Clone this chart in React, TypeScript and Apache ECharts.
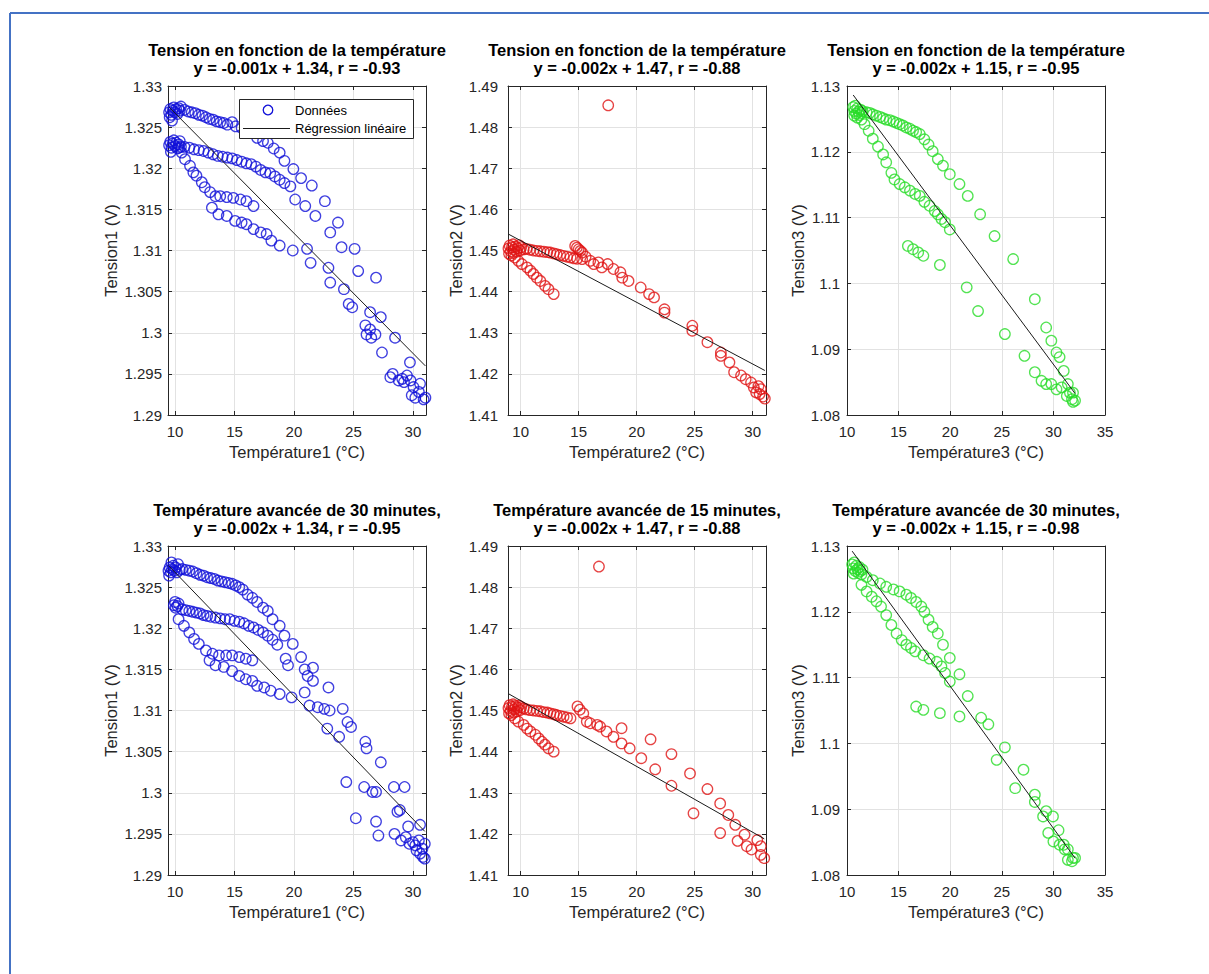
import React, { useEffect, useRef } from "react";
import * as echarts from "echarts";

type Pt = [number, number];

const FONT = '"Liberation Sans", Arial, Helvetica, sans-serif';

// ---------- Données (Température, Tension) ----------
const mesures1: Pt[] = [
  [9.5,1.3268],[9.6,1.3272],[9.7,1.3265],[9.8,1.3270],[9.9,1.3274],[10.0,1.3268],[10.1,1.3272],[10.2,1.3266],[10.3,1.3273],[10.4,1.3270],[10.5,1.3275],[9.55,1.3262],[9.75,1.3258],
  [10.8,1.3271],[11.1,1.3269],[11.4,1.3268],[11.7,1.3267],[12.0,1.3265],[12.3,1.3264],[12.6,1.3262],[12.9,1.3260],[13.2,1.3259],[13.5,1.3257],[13.8,1.3256],[14.1,1.3255],[14.4,1.3253],[14.8,1.3256],[15.1,1.3251],
  [15.6,1.3249],[16.1,1.3247],[16.6,1.3243],[16.9,1.3237],[17.4,1.3233],[17.8,1.3231],[18.3,1.3224],[18.8,1.3219],[19.2,1.3209],[19.95,1.3199],[20.6,1.3188],[21.5,1.3179],[22.6,1.3160],[23.7,1.3134],[25.1,1.3102],[25.4,1.3075],[26.9,1.3067],[28.5,1.2994],[29.75,1.2964],
  [9.5,1.3228],[9.6,1.3232],[9.7,1.3225],[9.8,1.3230],[9.9,1.3234],[10.0,1.3227],[10.1,1.3231],[10.2,1.3224],[10.3,1.3229],[10.4,1.3233],[10.5,1.3226],[9.65,1.3220],
  [10.8,1.3226],[11.2,1.3225],[11.6,1.3223],[12.0,1.3222],[12.4,1.3221],[12.8,1.3219],[13.2,1.3217],[13.6,1.3215],[14.0,1.3214],[14.4,1.3213],[14.8,1.3212],[15.2,1.3210],[15.6,1.3208],[16.0,1.3206],[16.4,1.3205],[16.8,1.3202],[17.2,1.3198],[17.6,1.3195],[18.0,1.3194],[18.4,1.3190],[18.8,1.3186],[19.2,1.3182],[19.7,1.3178],[20.1,1.3162],[20.95,1.3154],[21.8,1.3142],[23.05,1.3122],[24.0,1.3104],
  [10.3,1.3225],[10.56,1.3219],[10.84,1.3211],[11.26,1.3203],[11.54,1.3195],[11.8,1.3191],[12.25,1.3183],[12.5,1.3177],[12.95,1.3171],[13.4,1.3166],[13.8,1.3166],[14.35,1.3165],[14.9,1.3164],[15.5,1.3162],[16.0,1.3160],[16.6,1.3154],
  [13.1,1.3152],[13.65,1.3144],[14.35,1.3142],[15.05,1.3136],[15.6,1.3134],[16.0,1.3132],[16.6,1.3126],[17.2,1.3122],[17.7,1.3120],[18.1,1.3112],[18.8,1.3106],[19.9,1.3100],[21.1,1.3102],[21.4,1.3085],[22.9,1.3079],[23.05,1.3061],[24.2,1.3053],[24.6,1.3035],[24.9,1.3031],[26.4,1.3025],[27.3,1.3019],[26.0,1.3009],[26.4,1.3004],[26.1,1.2998],[26.5,1.2994],[26.85,1.2998],[27.4,1.2976],[28.3,1.2950],[28.1,1.2946],[28.8,1.2942],[29.1,1.2944],[29.25,1.2940],[29.8,1.2942],[29.5,1.2948],[30.05,1.2934],[29.9,1.2924],[30.2,1.2921],[30.5,1.2928],[30.6,1.2938],[30.9,1.2919],[31.05,1.2921],
];

const mesures2: Pt[] = [
  [8.95,1.4505],[9.05,1.4512],[9.15,1.4498],[9.25,1.4508],[9.35,1.4515],[9.45,1.4502],[9.55,1.4510],[9.65,1.4497],[9.75,1.4506],[9.85,1.4513],[9.95,1.4500],[9.0,1.4492],[9.2,1.4488],[9.4,1.4494],[10.05,1.4508],
  [10.26,1.4503],[10.5,1.4504],[10.8,1.4502],[11.1,1.4500],[11.4,1.4499],[11.7,1.4498],[12.0,1.4497],[12.3,1.4496],[12.56,1.4495],[12.85,1.4493],[13.1,1.4491],[13.4,1.4489],[13.7,1.4487],[14.0,1.4485],[14.3,1.4483],[14.6,1.4481],[14.87,1.4480],[15.3,1.4479],
  [14.7,1.4511],[14.85,1.4507],[15.0,1.4503],[15.15,1.4499],[15.3,1.4495],[15.6,1.4485],[16.0,1.4475],[16.3,1.4467],[16.7,1.4471],[17.0,1.4459],[17.5,1.4467],[18.0,1.4455],[18.6,1.4447],[18.76,1.4434],[19.3,1.4426],[20.35,1.4410],[21.07,1.4394],[21.5,1.4386],[22.4,1.4357],[22.4,1.4349],[24.8,1.4317],[24.8,1.4305],[26.1,1.4277],[27.26,1.4252],[27.26,1.4244],[28.0,1.4228],[28.4,1.4204],[29.0,1.4196],[29.4,1.4187],[29.86,1.4179],[30.1,1.4167],[30.3,1.4155],[30.6,1.4151],[30.7,1.4163],[30.9,1.4145],[31.05,1.4140],[30.5,1.4170],
  [9.5,1.4483],[9.8,1.4475],[10.1,1.4467],[10.55,1.4459],[10.84,1.4451],[11.1,1.4443],[11.4,1.4434],[11.7,1.4426],[12.1,1.4414],[12.4,1.4406],[12.85,1.4394],
  [17.55,1.4853],
];

const mesures3: Pt[] = [
  [10.6,1.1268],[10.7,1.1262],[10.8,1.1270],[10.9,1.1258],[11.0,1.1266],[11.1,1.1261],[11.2,1.1256],[11.3,1.1264],[11.4,1.1259],[10.7,1.1255],[11.0,1.1252],[11.5,1.1262],
  [11.9,1.1260],[12.2,1.1259],[12.5,1.1257],[12.85,1.1255],[13.2,1.1253],[13.5,1.1251],[13.8,1.1249],[14.15,1.1248],[14.5,1.1246],[14.8,1.1244],[15.1,1.1242],[15.4,1.1240],[15.75,1.1237],[16.1,1.1235],[16.4,1.1232],[16.7,1.1230],[17.05,1.1227],[17.5,1.1219],[17.9,1.1211],[18.3,1.1201],[18.8,1.1189],[19.3,1.1179],[19.96,1.1166],[20.9,1.1151],[21.7,1.1133],[22.9,1.1105],[24.3,1.1072],[26.1,1.1037],[28.2,1.0976],[29.3,1.0933],[29.8,1.0913],[30.3,1.0895],[30.6,1.0888],[31.0,1.0867],[31.4,1.0847],[31.9,1.0834],
  [11.4,1.1249],[11.7,1.1242],[12.1,1.1232],[12.5,1.1220],[13.0,1.1208],[13.5,1.1196],[13.8,1.1184],[14.3,1.1168],[14.6,1.1158],[15.1,1.1151],[15.6,1.1146],[16.1,1.1141],[16.6,1.1136],[17.05,1.1133],[17.5,1.1124],[18.0,1.1118],[18.5,1.1110],[18.8,1.1105],[19.15,1.1098],[19.5,1.1093],[19.96,1.1082],
  [15.9,1.1057],[16.4,1.1052],[16.9,1.1047],[17.4,1.1042],[19.0,1.1028],
  [21.6,1.0994],[22.7,1.0958],[25.3,1.0923],[27.2,1.0890],[28.2,1.0865],[28.85,1.0852],[29.3,1.0847],[29.8,1.0847],[30.3,1.0839],[31.3,1.0829],[31.8,1.0824],[32.1,1.0822],[31.6,1.0834],[30.8,1.0842],[31.9,1.0820],
];

const mesures4: Pt[] = [
  [9.45,1.3270],[9.55,1.3274],[9.65,1.3268],[9.75,1.3272],[9.85,1.3276],[9.95,1.3270],[10.05,1.3274],[10.15,1.3268],[10.25,1.3278],[10.4,1.3271],[9.5,1.3264],[9.7,1.3280],
  [10.6,1.3272],[10.9,1.3271],[11.2,1.3270],[11.5,1.3269],[11.8,1.3267],[12.1,1.3265],[12.4,1.3264],[12.7,1.3262],[13.0,1.3261],[13.3,1.3260],[13.6,1.3258],[13.9,1.3257],[14.2,1.3256],[14.5,1.3255],[14.8,1.3254],[15.1,1.3252],[15.4,1.3250],[15.7,1.3247],[16.1,1.3241],[16.5,1.3237],[16.9,1.3232],[17.4,1.3225],[17.8,1.3221],[18.2,1.3211],[18.8,1.3203],[19.2,1.3191],[19.9,1.3181],[20.6,1.3165],[21.15,1.3142],[21.6,1.3136],[22.9,1.3128],[24.1,1.3102],[24.5,1.3086],[24.8,1.3080],[26.0,1.3062],[26.1,1.3054],[27.3,1.3037],[28.4,1.3007],[29.3,1.3007],[28.7,1.2977],[29.6,1.2959],
  [10.05,1.3225],[10.3,1.3230],[10.0,1.3232],[10.2,1.3227],[9.9,1.3228],[10.6,1.3223],[10.9,1.3222],[11.2,1.3221],[11.5,1.3220],[11.8,1.3219],[12.1,1.3218],[12.4,1.3216],[12.7,1.3215],[13.0,1.3214],[13.4,1.3213],[13.8,1.3212],[14.2,1.3211],[14.6,1.3211],[15.0,1.3209],[15.4,1.3208],[15.8,1.3206],[16.2,1.3203],[16.6,1.3201],[17.0,1.3198],[17.4,1.3195],[17.8,1.3191],[18.2,1.3186],[18.6,1.3180],[19.3,1.3163],[19.5,1.3155],[20.9,1.3150],[21.6,1.3152],[20.9,1.3122],[21.3,1.3106],[22.0,1.3104],[22.55,1.3102],[23.0,1.3100],[22.8,1.3078],[23.8,1.3068],
  [10.3,1.3211],[10.75,1.3203],[11.2,1.3195],[11.6,1.3187],[12.0,1.3181],[12.6,1.3173],[13.15,1.3169],[13.7,1.3167],[14.3,1.3167],[14.8,1.3167],[15.4,1.3165],[15.95,1.3163],[16.5,1.3161],
  [12.9,1.3161],[13.4,1.3155],[14.1,1.3153],[14.8,1.3148],[15.4,1.3142],[15.95,1.3138],[16.5,1.3136],[16.9,1.3130],[17.5,1.3128],[18.05,1.3124],[18.8,1.3120],[19.8,1.3116],
  [24.4,1.3013],[25.2,1.2969],[25.9,1.3007],[26.6,1.3001],[26.9,1.3001],[26.9,1.2965],[27.1,1.2948],[28.45,1.2950],[29.0,1.2942],[29.4,1.2946],[29.7,1.2938],[30.3,1.2930],[30.6,1.2926],[30.85,1.2922],[31.0,1.2920],[28.9,1.2979],[30.6,1.2961],[31.0,1.2938],[30.0,1.2940],[30.2,1.2936],[30.5,1.2942],[30.8,1.2932],
];

const mesures5: Pt[] = [
  [8.95,1.4506],[9.05,1.4513],[9.15,1.4499],[9.25,1.4509],[9.35,1.4515],[9.45,1.4503],[9.55,1.4511],[9.65,1.4498],[9.75,1.4507],[9.85,1.4512],[9.95,1.4501],[9.0,1.4493],[9.2,1.4489],[9.4,1.4495],[10.05,1.4508],
  [10.26,1.4505],[10.5,1.4503],[10.8,1.4501],[11.1,1.4500],[11.4,1.4499],[11.7,1.4498],[12.0,1.4496],[12.3,1.4495],[12.56,1.4493],[12.85,1.4491],[13.1,1.4489],[13.4,1.4487],[13.7,1.4485],[14.0,1.4483],[14.3,1.4481],
  [14.9,1.4510],[15.1,1.4502],[15.4,1.4493],[15.7,1.4473],[16.0,1.4469],[16.6,1.4465],[16.85,1.4461],[17.4,1.4449],[18.0,1.4436],[18.7,1.4457],[18.7,1.4420],[19.4,1.4408],[20.4,1.4384],[21.2,1.4430],[21.6,1.4357],[23.0,1.4394],[23.0,1.4317],[24.6,1.4347],[24.9,1.4250],[26.1,1.4309],[27.2,1.4274],[27.2,1.4202],[27.9,1.4246],[28.5,1.4222],[28.7,1.4183],[29.3,1.4198],[29.5,1.4170],[29.9,1.4162],[30.4,1.4185],[30.7,1.4170],[30.7,1.4149],[31.0,1.4141],
  [9.5,1.4481],[9.8,1.4473],[10.26,1.4465],[10.55,1.4456],[10.84,1.4449],[11.27,1.4441],[11.56,1.4432],[11.84,1.4424],[12.1,1.4417],[12.4,1.4408],[12.85,1.4400],
  [16.75,1.4850],
];

const mesures6: Pt[] = [
  [10.5,1.1272],[10.6,1.1266],[10.7,1.1275],[10.8,1.1262],[10.9,1.1270],[11.0,1.1265],[11.1,1.1259],[11.2,1.1268],[11.3,1.1262],[11.4,1.1257],[10.65,1.1258],[11.5,1.1264],
  [11.9,1.1253],[12.5,1.1248],[13.2,1.1243],[13.8,1.1238],[14.5,1.1234],[15.1,1.1231],[15.75,1.1226],[16.2,1.1221],[16.7,1.1215],[17.2,1.1208],[17.5,1.1200],[17.9,1.1188],[18.3,1.1177],[18.8,1.1167],[19.3,1.1150],[19.96,1.1130],[20.9,1.1105],[21.7,1.1072],[23.0,1.1039],[23.7,1.1029],[25.3,1.0994],[27.1,1.0960],[28.2,1.0922],[29.3,1.0897],[29.96,1.0889],[30.5,1.0868],[31.0,1.0846],[31.4,1.0839],[31.9,1.0826],
  [11.4,1.1241],[11.9,1.1231],[12.4,1.1223],[12.85,1.1216],[13.3,1.1208],[13.8,1.1195],[14.3,1.1180],[14.8,1.1167],[15.3,1.1157],[15.75,1.1150],[16.2,1.1145],[16.6,1.1140],[17.4,1.1134],[18.0,1.1129],[18.7,1.1124],[19.15,1.1117],[19.5,1.1107],[19.96,1.1094],
  [16.7,1.1056],[17.4,1.1051],[19.0,1.1046],
  [20.9,1.1041],[24.5,1.0975],[26.3,1.0932],[28.2,1.0911],[29.0,1.0889],[29.5,1.0864],[30.0,1.0851],[30.6,1.0846],[31.1,1.0839],[31.4,1.0823],[31.8,1.0821],[32.1,1.0826],
];

// ---------- Régressions linéaires (pente, ordonnée à l'origine) ----------
const pentes = [-0.00146, -0.0015, -0.00211, -0.0015, -0.0016, -0.00216];
const ordonnees = [1.3413, 1.4674, 1.151, 1.3418, 1.4684, 1.1519];

// ---------- Textes ----------
const titresLigne1 = [
  "Tension en fonction de la température",
  "Tension en fonction de la température",
  "Tension en fonction de la température",
  "Température avancée de 30 minutes,",
  "Température avancée de 15 minutes,",
  "Température avancée de 30 minutes,",
];
const titresLigne2 = [
  "y = -0.001x + 1.34, r = -0.93",
  "y = -0.002x + 1.47, r = -0.88",
  "y = -0.002x + 1.15, r = -0.95",
  "y = -0.002x + 1.34, r = -0.95",
  "y = -0.002x + 1.47, r = -0.88",
  "y = -0.002x + 1.15, r = -0.98",
];
const nomsX = ["Température1 (°C)", "Température2 (°C)", "Température3 (°C)"];
const nomsY = ["Tension1 (V)", "Tension2 (V)", "Tension3 (V)"];

// ---------- Axes ----------
const xMins = [9.41, 8.91, 10];
const xMaxs = [31.1, 31.15, 35];
const yMins = [1.29, 1.41, 1.08];
const yMaxs = [1.33, 1.49, 1.13];
const yPas = [0.005, 0.01, 0.01];
const legendeNoms = ["Données", "Régression linéaire"];

const COULEURS = ["#1010d8", "#e01414", "#28dc28"];
const AXE = "#262626";
const GRILLE = "#e2e2e2";

const colGauche = [168, 508, 847];
const ligneHaut = [86, 546];
const W = 258;
const H = 329;
const yNameGap = [49, 42, 41];
const yLabelMargin = [6, 10, 7];

function fmt(v: number) {
  return String(parseFloat(v.toFixed(4)));
}

function buildOption() {
  const donnees = [mesures1, mesures2, mesures3, mesures4, mesures5, mesures6];
  const grid: any[] = [];
  const xAxis: any[] = [];
  const yAxis: any[] = [];
  const series: any[] = [];
  const graphic: any[] = [];

  donnees.forEach((pts, i) => {
    const col = i % 3;
    const row = Math.floor(i / 3);
    const left = colGauche[col];
    const top = ligneHaut[row];
    grid.push({ left, top, width: W, height: H });

    const xmin = xMins[col];
    const xmax = xMaxs[col];
    const showMin = Math.abs(xmin % 5) < 1e-9;
    const showMax = Math.abs(xmax % 5) < 1e-9;
    const lineStyle = { color: AXE, width: 1 };
    const xBase = {
      type: "value",
      gridIndex: i,
      min: xmin,
      max: xmax,
      minInterval: 5,
      maxInterval: 5,
    };
    xAxis.push({
      ...xBase,
      position: "bottom",
      name: nomsX[col],
      nameLocation: "middle",
      nameGap: 28,
      nameTextStyle: { fontFamily: FONT, fontSize: 16.5, color: AXE },
      axisLine: { show: true, onZero: false, lineStyle },
      axisTick: { show: true, inside: true, length: 4, lineStyle },
      axisLabel: {
        margin: 9,
        fontFamily: FONT,
        fontSize: 15,
        color: AXE,
        showMinLabel: showMin,
        showMaxLabel: showMax,
        formatter: fmt,
      },
      splitLine: { show: true, lineStyle: { color: GRILLE, width: 1 } },
    });
    xAxis.push({
      ...xBase,
      position: "top",
      axisLine: { show: true, onZero: false, lineStyle },
      axisTick: { show: true, inside: true, length: 4, lineStyle },
      axisLabel: { show: false },
      splitLine: { show: false },
    });
    const yBase = {
      type: "value",
      gridIndex: i,
      min: yMins[col],
      max: yMaxs[col],
      interval: yPas[col],
    };
    yAxis.push({
      ...yBase,
      position: "left",
      name: nomsY[col],
      nameLocation: "middle",
      nameGap: yNameGap[col],
      nameTextStyle: { fontFamily: FONT, fontSize: 16.5, color: AXE },
      axisLine: { show: true, onZero: false, lineStyle },
      axisTick: { show: true, inside: true, length: 4, lineStyle },
      axisLabel: {
        margin: yLabelMargin[col],
        fontFamily: FONT,
        fontSize: 15,
        color: AXE,
        formatter: fmt,
      },
      splitLine: { show: true, lineStyle: { color: GRILLE, width: 1 } },
    });
    yAxis.push({
      ...yBase,
      position: "right",
      axisLine: { show: true, onZero: false, lineStyle },
      axisTick: { show: true, inside: true, length: 4, lineStyle },
      axisLabel: { show: false },
      splitLine: { show: false },
    });

    series.push({
      type: "scatter",
      name: legendeNoms[0],
      xAxisIndex: 2 * i,
      yAxisIndex: 2 * i,
      data: pts,
      symbol: "circle",
      symbolSize: 10.5,
      silent: true,
      itemStyle: { color: "rgba(0,0,0,0)", borderColor: COULEURS[col], borderWidth: 1.3 },
      z: 2,
    });
    const xs = pts.map((p) => p[0]);
    const x0 = Math.min(...xs);
    const x1 = Math.max(...xs);
    series.push({
      type: "line",
      name: legendeNoms[1],
      xAxisIndex: 2 * i,
      yAxisIndex: 2 * i,
      data: [
        [x0, ordonnees[i] + pentes[i] * x0],
        [x1, ordonnees[i] + pentes[i] * x1],
      ],
      symbol: "none",
      silent: true,
      lineStyle: { color: "#1a1a1a", width: 1 },
      z: 3,
    });

    graphic.push({
      type: "text",
      x: left + W / 2,
      y: top - 27,
      z: 50,
      style: {
        text: titresLigne1[i] + "\n" + titresLigne2[i],
        fontFamily: FONT,
        fontSize: 16.5,
        fontWeight: "bold",
        lineHeight: 18.5,
        fill: "#000",
        align: "center",
        verticalAlign: "middle",
      },
    });
  });

  // cadre bleu
  graphic.push({
    type: "line",
    z: 50,
    shape: { x1: 10, y1: 13, x2: 1209, y2: 13 },
    style: { stroke: "#4472c4", lineWidth: 2 },
  });
  graphic.push({
    type: "line",
    z: 50,
    shape: { x1: 10, y1: 13, x2: 10, y2: 974 },
    style: { stroke: "#4472c4", lineWidth: 2 },
  });

  // légende (premier graphique)
  graphic.push({
    type: "rect",
    z: 100,
    shape: { x: 239.5, y: 99.5, width: 174, height: 39 },
    style: { fill: "#fff", stroke: AXE, lineWidth: 1 },
  });
  graphic.push({
    type: "circle",
    z: 101,
    shape: { cx: 268, cy: 110, r: 4.8 },
    style: { fill: "none", stroke: COULEURS[0], lineWidth: 1.3 },
  });
  graphic.push({
    type: "line",
    z: 101,
    shape: { x1: 243, y1: 128.5, x2: 290, y2: 128.5 },
    style: { stroke: "#1a1a1a", lineWidth: 1 },
  });
  graphic.push({
    type: "text",
    z: 101,
    x: 295,
    y: 110,
    style: { text: legendeNoms[0], fontFamily: FONT, fontSize: 13, fill: "#000", verticalAlign: "middle" },
  });
  graphic.push({
    type: "text",
    z: 101,
    x: 295,
    y: 128,
    style: { text: legendeNoms[1], fontFamily: FONT, fontSize: 13, fill: "#000", verticalAlign: "middle" },
  });

  return {
    animation: false,
    backgroundColor: "#ffffff",
    grid,
    xAxis,
    yAxis,
    series,
    graphic,
  };
}

export default function App() {
  const ref = useRef<HTMLDivElement>(null);
  useEffect(() => {
    if (!ref.current) return;
    const chart = echarts.init(ref.current, null, { renderer: "svg" });
    chart.setOption(buildOption() as any);
    return () => chart.dispose();
  }, []);
  return (
    <div
      ref={ref}
      style={{ position: "absolute", left: 0, top: 0, width: 1209, height: 974, background: "#fff" }}
    />
  );
}
